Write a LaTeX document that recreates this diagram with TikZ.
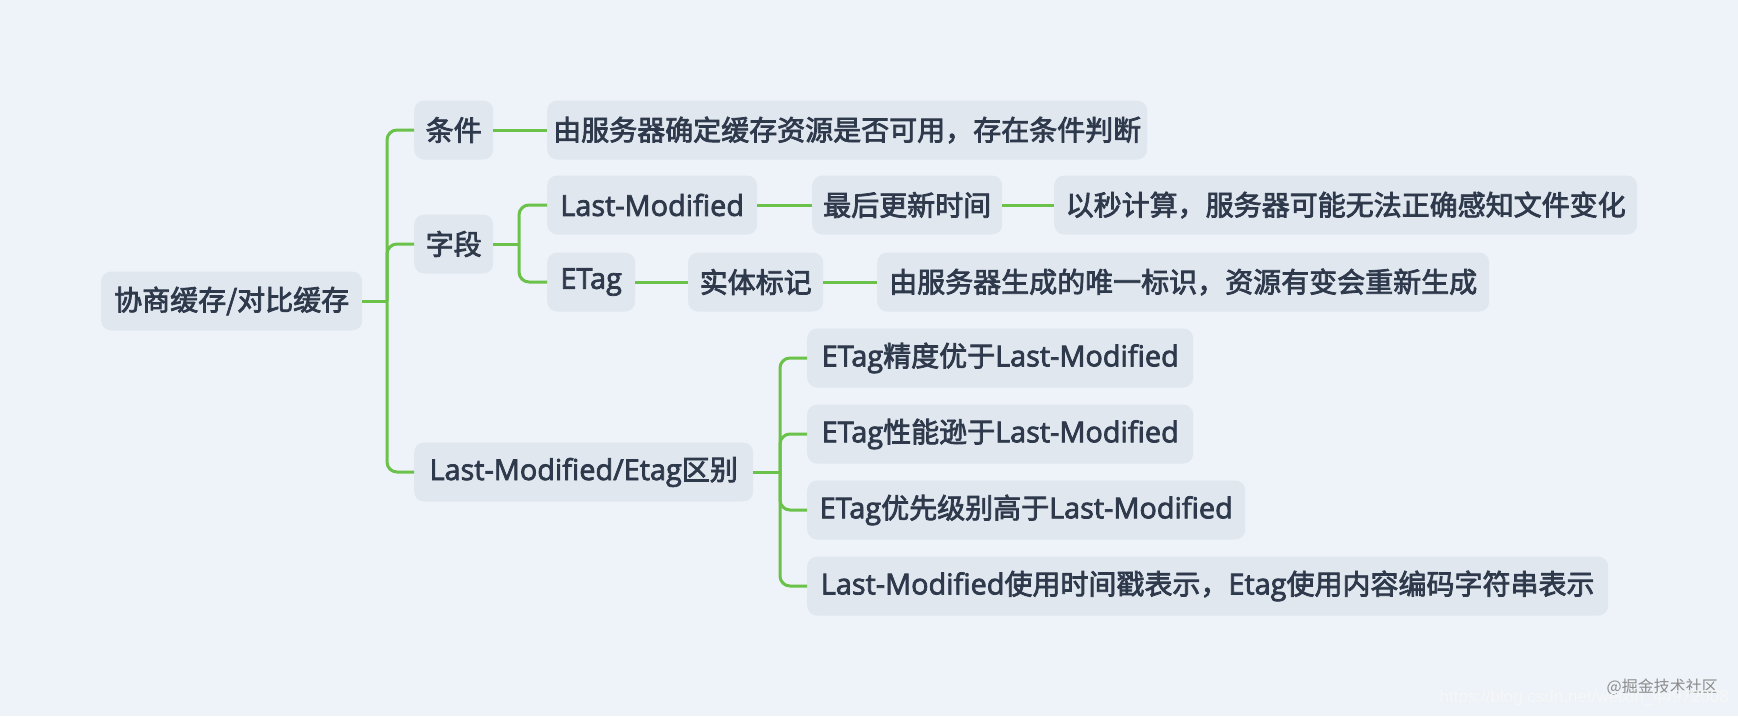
\documentclass[tikz,border=0pt]{standalone}
\usepackage{fontspec}
\setmainfont{Noto Sans CJK SC}
\newfontfamily\latf{Open Sans}[Scale=1.03]
\newfontfamily\wmfont{Noto Sans CJK SC}
\newfontfamily\urlfont{Liberation Sans}
\newcommand\lt[1]{{\latf #1}}
\newcommand\emb[1]{\special{pdf:literal direct 2 Tr 0.75 w}#1\special{pdf:literal direct 0 Tr}}
\definecolor{bgc}{HTML}{EDF3F8}
\definecolor{nodefill}{HTML}{E1E7EF}
\definecolor{txt}{HTML}{2E3A4C}
\definecolor{lgreen}{HTML}{6BC24A}
\begin{document}
\begin{tikzpicture}[x=1pt,y=-1pt,
  box/.style={fill=nodefill, rounded corners=10pt, text=txt, minimum height=59pt,
    inner xsep=0pt, inner ysep=0pt, anchor=west, font=\fontsize{28}{32}\selectfont},
  conn/.style={draw=lgreen, line width=3pt, rounded corners=10pt},
  wm/.style={inner sep=0pt, anchor=east}
]
\fill[bgc] (0,0) rectangle (1738,716);
\useasboundingbox (0,0) rectangle (1738,716);

% root and level 1
\node[box, minimum width=261pt] (root) at (101,301) {\emb{协商缓存/对比缓存}};
\node[box, minimum width=79pt]  (c1) at (414,130) {\emb{条件}};
\node[box, minimum width=79pt]  (c2) at (414,244) {\emb{字段}};
\node[box, minimum width=339pt] (c3) at (414,472) {\emb{\lt{Last-Modified/Etag}区别}};

% level 2
\node[box, minimum width=600pt] (d1) at (547,130) {\emb{由服务器确定缓存资源是否可用，存在条件判断}};
\node[box, minimum width=210pt] (lm) at (547,205) {\emb{\lt{Last-Modified}}};
\node[box, minimum width=88pt]  (et) at (547,282) {\emb{\lt{ETag}}};
\node[box, minimum width=190pt] (lm2) at (812,205) {\emb{最后更新时间}};
\node[box, minimum width=583pt] (lm3) at (1054,205) {\emb{以秒计算，服务器可能无法正确感知文件变化}};
\node[box, minimum width=135pt] (et2) at (688,282) {\emb{实体标记}};
\node[box, minimum width=612pt] (et3) at (877,282) {\emb{由服务器生成的唯一标识，资源有变会重新生成}};

\node[box, minimum width=386pt] (e1) at (807,358) {\emb{\lt{ETag}精度优于\lt{Last-Modified}}};
\node[box, minimum width=386pt] (e2) at (807,434) {\emb{\lt{ETag}性能逊于\lt{Last-Modified}}};
\node[box, minimum width=438pt] (e3) at (807,510) {\emb{\lt{ETag}优先级别高于\lt{Last-Modified}}};
\node[box, minimum width=801pt] (e4) at (807,586) {\emb{\lt{Last-Modified}使用时间戳表示，\lt{Etag}使用内容编码字符串表示}};

% connectors
\coordinate (j0) at (387,301);
\coordinate (j1) at (519,244);
\coordinate (j2) at (780,472);
\draw[conn] (root.east) -- (j0);
\draw[conn] (j0) |- (c1.west);
\draw[conn] (j0) |- (c2.west);
\draw[conn] (j0) |- (c3.west);
\draw[conn] (c1.east) -- (d1.west);
\draw[conn] (c2.east) -- (j1);
\draw[conn] (j1) |- (lm.west);
\draw[conn] (j1) |- (et.west);
\draw[conn] (lm.east) -- (lm2.west);
\draw[conn] (lm2.east) -- (lm3.west);
\draw[conn] (et.east) -- (et2.west);
\draw[conn] (et2.east) -- (et3.west);
\draw[conn] (c3.east) -- (j2);
\draw[conn] (j2) |- (e1.west);
\draw[conn] (j2) |- (e2.west);
\draw[conn] (j2) |- (e3.west);
\draw[conn] (j2) |- (e4.west);

% watermark
\node[wm, text=black!45, font=\wmfont\fontsize{16}{18}\selectfont] (wm1) at (1718,687) {@掘金技术社区};
\node[wm, text=white!80!black!15, font=\urlfont\fontsize{17}{19}\selectfont] (wm2) at (1729,698) {https://blog.csdn.net/weixin\_44972008};
\end{tikzpicture}
\end{document}
